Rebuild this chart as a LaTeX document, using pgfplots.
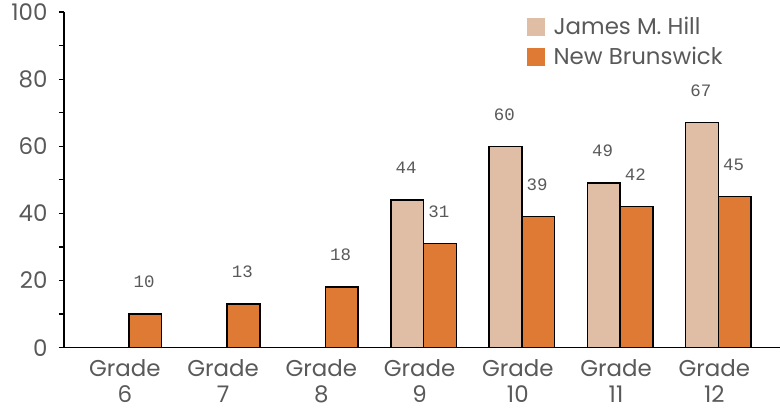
\documentclass[border=0pt]{standalone}
\usepackage{fontspec}
\setmainfont{Poppins}
\usepackage{pgfplots}
\pgfplotsset{compat=1.18}
\newfontfamily\monofont{Liberation Mono}
\definecolor{jmh}{HTML}{E0BDA5}
\definecolor{nb}{HTML}{DF7A35}
\definecolor{txt}{HTML}{595959}
\begin{document}
\begin{tikzpicture}
\begin{axis}[
  scale only axis,
  width=717bp, height=336bp,
  xmin=-0.66, xmax=6.63,
  ymin=0, ymax=100,
  ytick={0,20,...,100},
  minor ytick={10,30,...,90},
  axis x line*=bottom,
  axis y line*=left,
  axis line style={line width=1.6pt, black},
  y axis line style={-},
  x axis line style={-},
  tick align=outside,
  major tick length=5bp, minor tick length=5bp,
  tick style={black, line width=1.2pt},
  ytick pos=left,
  yticklabel style={font=\fontsize{23}{25}\selectfont, text=txt, xshift=-8bp},
  /pgf/number format/assume math mode=true,
  xtick={0,...,6},
  xtick style={draw=none},
  xticklabels={{Grade\\6},{Grade\\7},{Grade\\8},{Grade\\9},{Grade\\10},{Grade\\11},{Grade\\12}},
  xticklabel style={align=center, font=\fontsize{23}{27}\selectfont, text=txt, xshift=-4bp, yshift=-3bp},
  ybar=0pt,
  bar width=0.333,
  nodes near coords,
  every node near coord/.append style={font=\monofont\fontsize{17.5}{19}\selectfont, text=txt, anchor=center, yshift=32bp, xshift=-1bp},
  legend style={draw=none, fill=none, at={(0.6457,0.99)}, anchor=north west, inner sep=0pt, font=\fontsize{23}{25}\selectfont, text=txt, row sep=7bp, column sep=7bp},
  legend cell align=left,
  legend image code/.code={\fill[#1,draw=none] (0bp,-9bp) rectangle (18bp,9bp);},
]
\addplot[draw=black, line width=1.5pt, fill=jmh, bar shift=-0.1665] coordinates {(3,44) (4,60) (5,49) (6,67)};
\addplot[draw=black, line width=1.5pt, fill=nb, bar shift=0.1665] coordinates {(0,10) (1,13) (2,18) (3,31) (4,39) (5,42) (6,45)};
\legend{James M. Hill, New Brunswick}
\end{axis}
\path (current axis.south west) ++(-64bp,-63bp) rectangle ++(781bp,411bp);
\end{tikzpicture}
\end{document}
